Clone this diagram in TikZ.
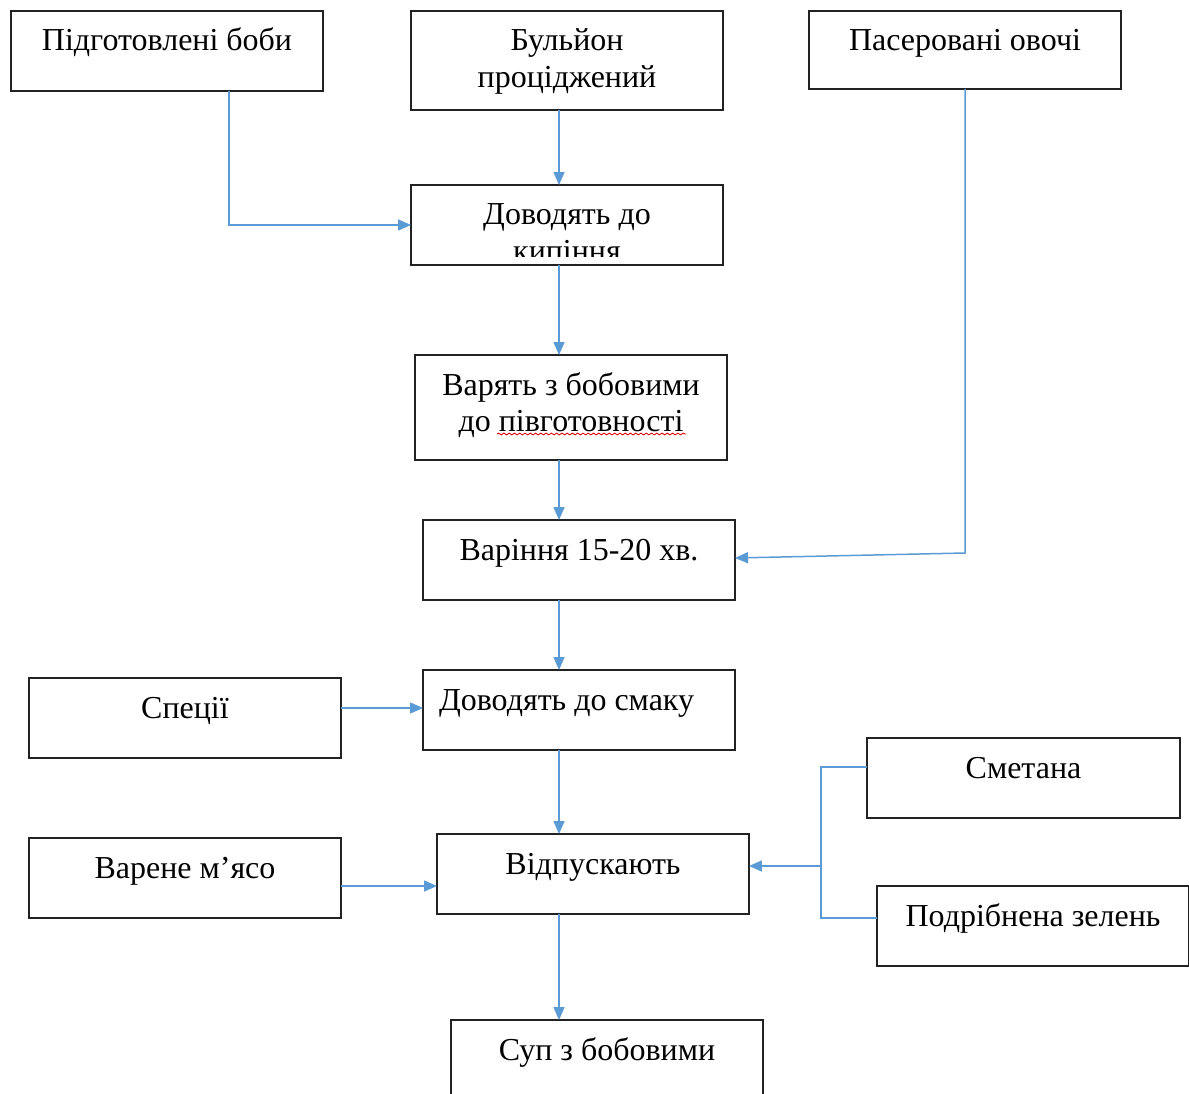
\documentclass[tikz,border=0pt]{standalone}
\usepackage{fontspec}
\setmainfont{Liberation Serif}
\usetikzlibrary{arrows.meta,calc,decorations.pathmorphing}
\definecolor{conn}{HTML}{5B9BD5}
\definecolor{boxline}{HTML}{222222}
\newcommand\bt[3]{\parbox[c][#2][t]{#1}{\centering\rule{0pt}{0.8cm}#3}}
\tikzset{
  box/.style={draw=boxline, line width=1.1pt, inner sep=0pt, outer sep=0pt,
              font=\fontsize{18.2}{20.5}\selectfont},
  line/.style={draw=conn, line width=0.85pt},
  arr/.style={line, -{Triangle[length=0.26cm,width=0.22cm]}}
}
\begin{document}
\begin{tikzpicture}[x=0.02cm,y=-0.02cm]
\clip (0,0) rectangle (1189,1094);
\fill[white] (0,0) rectangle (1189,1094);
\coordinate (col) at (559,0);
% boxes
\node[box] (b1) at (167,51) {\bt{6.24cm}{1.6cm}{Підготовлені боби}};
\node[box] (b2) at (567,60.5) {\bt{6.24cm}{1.98cm}{Бульйон\\проціджений}};
\node[box] (b3) at (965,50) {\bt{6.24cm}{1.56cm}{Пасеровані овочі}};
\node[box] (b4) at (567,225) {\bt{6.24cm}{1.6cm}{}};
\begin{scope}
  \clip (411,185) rectangle (723,257);
  \node[box, draw=none] (b4t) at (b4) {\bt{6.24cm}{1.6cm}{Доводять до\\кипіння}};
\end{scope}
\node[box] (b5) at (571,407.5) {\bt{6.24cm}{2.1cm}{Варять з бобовими\\до півготовності}};
\node[box] (b6) at (579,560) {\bt{6.24cm}{1.6cm}{Варіння 15-20 хв.}};
\node[box] (b7) at (579,710) {\bt{6.24cm}{1.6cm}{\hspace*{-0.5cm}Доводять до смаку}};
\node[box] (b8) at (185,718) {\bt{6.24cm}{1.6cm}{Спеції}};
\node[box] (b9) at (593,874) {\bt{6.24cm}{1.6cm}{Відпускають}};
\node[box] (b10) at (185,878) {\bt{6.24cm}{1.6cm}{Варене м’ясо}};
\node[box] (b11) at (1023.5,778) {\bt{6.26cm}{1.6cm}{Сметана}};
\node[box] (b12) at (1033,926) {\bt{6.24cm}{1.6cm}{Подрібнена зелень}};
\node[box] (b13) at (607,1070) {\bt{6.24cm}{2.0cm}{Суп з бобовими}};
% spell-check underline
\draw[red!85!black, line width=0.5pt, decorate,
      decoration={snake, amplitude=0.5pt, segment length=3pt}] (497,434) -- (686,434);
% connectors
\draw[arr] ($(b1.south)+(62,0)$) |- (b4.west);
\draw[arr] (b2.south -| col) -- (b4.north -| col);
\draw[arr] (b4.south -| col) -- (b5.north -| col);
\draw[arr] (b5.south -| col) -- (b6.north -| col);
\draw[arr] (b3.south) -- ($(b3.south |- b6.east)+(0,-7)$) -- ($(b6.east)+(0,-2)$);
\draw[arr] (b6.south -| col) -- (b7.north -| col);
\draw[arr] ($(b7.west -| b8.east)+(0,-2)$) -- ($(b7.west)+(0,-2)$);
\draw[arr] (b7.south -| col) -- (b9.north -| col);
\draw[arr] ($(b10.east)+(0,8)$) -- ($(b9.west)+(0,12)$);
\coordinate (j) at (821,866);
\draw[line] ($(b11.west)+(0,-11)$) -| (j);
\draw[line] ($(b12.west)+(0,-8)$) -| (j);
\draw[arr] (j) -- (b9.east |- j);
\draw[arr] (b9.south -| col) -- (b13.north -| col);
\end{tikzpicture}
\end{document}
